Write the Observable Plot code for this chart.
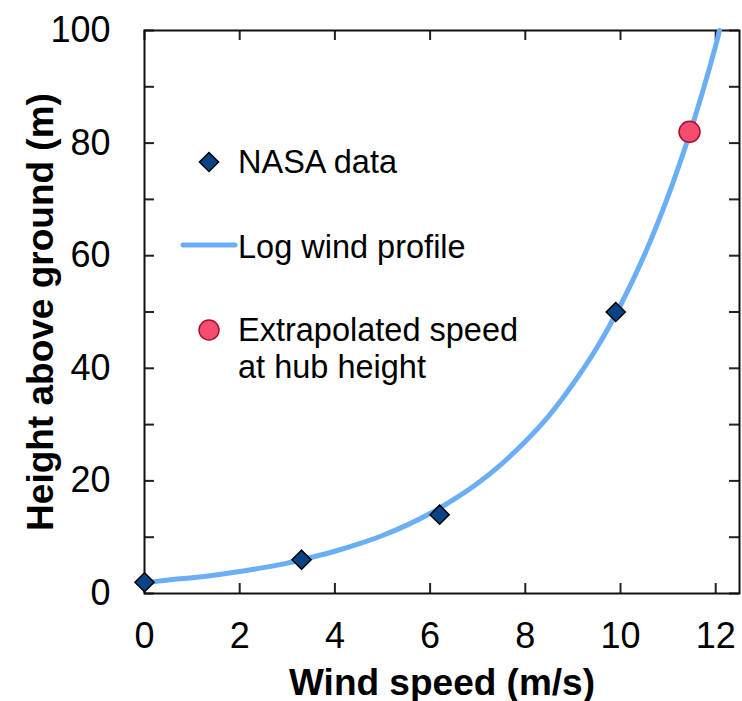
<!DOCTYPE html>
<html>
<head>
<meta charset="utf-8">
<script src="https://cdn.jsdelivr.net/npm/d3@7"></script>
<script src="https://cdn.jsdelivr.net/npm/@observablehq/plot@0.6"></script>
<style>
  html, body { margin: 0; padding: 0; background: #fff; }
  #chart { position: relative; width: 742px; height: 701px; }
</style>
</head>
<body>
<div id="chart"></div>
<script>
// Log wind profile curve
const curveSpeed  = [0, 0.5, 1, 1.5, 2, 2.5, 3, 3.5, 4, 4.5, 5, 5.5, 6, 6.5, 7, 7.5, 8, 8.5, 9, 9.5, 10, 10.5, 11, 11.5, 12, 12.08];
const curveHeight = [1.9, 2.4, 2.8, 3.3, 3.9, 4.6, 5.4, 6.4, 7.5, 8.8, 10.3, 12.1, 14.2, 16.7, 19.6, 23.0, 27.0, 31.6, 37.2, 43.6, 51.2, 60.1, 70.6, 82.9, 97.3, 100];
// NASA data points
const nasaSpeed  = [0, 3.3, 6.2, 9.9];
const nasaHeight = [2, 6, 14, 50];
// Extrapolated speed at hub height
const hubSpeed  = [11.45];
const hubHeight = [82];
// Axis ticks
const xTicks = [0, 2, 4, 6, 8, 10, 12];
const yTicks = [0, 20, 40, 60, 80, 100];
const yMinorTicks = [0, 10, 20, 30, 40, 50, 60, 70, 80, 90, 100];
// Legend labels
const legendLabels = ["NASA data", "Log wind profile", "Extrapolated speed", "at hub height"];
const xLabel = "Wind speed (m/s)";
const yLabel = "Height above ground (m)";

const curve = curveSpeed.map((s, i) => ({speed: s, height: curveHeight[i]}));
const nasa = nasaSpeed.map((s, i) => ({speed: s, height: nasaHeight[i]}));
const hub = hubSpeed.map((s, i) => ({speed: s, height: hubHeight[i]}));

const W = 742, H = 701, mL = 144, mR = 3, mT = 30, mB = 108;
const frameW = W - mL - mR, frameH = H - mT - mB;
const tickLen = 10;
const FONT = "'Liberation Sans', Arial, Helvetica, sans-serif";
const blue = "#6aaff6";
const diamondR = 8.6;

const chart = Plot.plot({
  width: W, height: H,
  marginLeft: mL, marginRight: mR, marginTop: mT, marginBottom: mB,
  x: {domain: [0, 12.5]},
  y: {domain: [0, 100]},
  style: {fontFamily: FONT, color: "#000", background: "#fff"},
  marks: [
    // inward ticks
    Plot.tickX(xTicks, {x: d => d, insetTop: frameH - tickLen, stroke: "#222", strokeWidth: 2}),
    Plot.tickX(xTicks, {x: d => d, insetBottom: frameH - tickLen, stroke: "#222", strokeWidth: 2}),
    Plot.tickY(yMinorTicks, {y: d => d, insetRight: frameW - tickLen, stroke: "#222", strokeWidth: 2}),
    Plot.tickY(yMinorTicks, {y: d => d, insetLeft: frameW - tickLen, stroke: "#222", strokeWidth: 2}),
    Plot.frame({stroke: "#111", strokeWidth: 2}),
    Plot.axisX({ticks: xTicks, tickSize: 0, tickPadding: 29, fontSize: 36, label: null, tickFormat: d => String(d)}),
    Plot.axisY({ticks: yTicks, tickSize: 0, tickPadding: 34, fontSize: 36, label: null, tickFormat: d => String(d)}),
    Plot.text([xLabel], {frameAnchor: "bottom", dy: 101, lineAnchor: "bottom", textAnchor: "middle", text: d => d, fontSize: 37, fontWeight: "bold", fill: "#000"}),
    Plot.text([yLabel], {frameAnchor: "left", dx: -92, rotate: -90, lineAnchor: "bottom", textAnchor: "middle", text: d => d, fontSize: 37, fontWeight: "bold", fill: "#000"}),
    Plot.line(curve, {x: "speed", y: "height", stroke: blue, strokeWidth: 5, curve: "catmull-rom"}),
    Plot.dot(nasa, {x: "speed", y: "height", symbol: "diamond2", r: diamondR, fill: "#0a4487", stroke: "#000", strokeWidth: 1.5}),
    Plot.dot(hub, {x: "speed", y: "height", r: 10.5, fill: "#f44d6e", stroke: "#a8102e", strokeWidth: 1.5})
  ]
});

document.getElementById("chart").appendChild(chart);

// Legend (inside the plot area)
const svg = d3.select(chart);
const lg = svg.append("g").attr("font-family", FONT).attr("font-size", 32.5)
  .attr("fill", "#000").attr("text-anchor", "start");
const diamondPath = d3.symbol(d3.symbolDiamond2, Math.PI * diamondR * diamondR)();
lg.append("path").attr("d", diamondPath).attr("transform", "translate(209,162)")
  .attr("fill", "#0a4487").attr("stroke", "#000").attr("stroke-width", 1.5);
lg.append("text").attr("x", 238).attr("y", 173).text(legendLabels[0]);
lg.append("line").attr("x1", 183).attr("x2", 235).attr("y1", 245).attr("y2", 245)
  .attr("stroke", blue).attr("stroke-width", 5).attr("stroke-linecap", "round");
lg.append("text").attr("x", 238).attr("y", 258).text(legendLabels[1]);
lg.append("circle").attr("cx", 209).attr("cy", 330).attr("r", 10)
  .attr("fill", "#f44d6e").attr("stroke", "#a8102e").attr("stroke-width", 1.5);
lg.append("text").attr("x", 238).attr("y", 341).text(legendLabels[2]);
lg.append("text").attr("x", 238).attr("y", 378).text(legendLabels[3]);
</script>
</body>
</html>
